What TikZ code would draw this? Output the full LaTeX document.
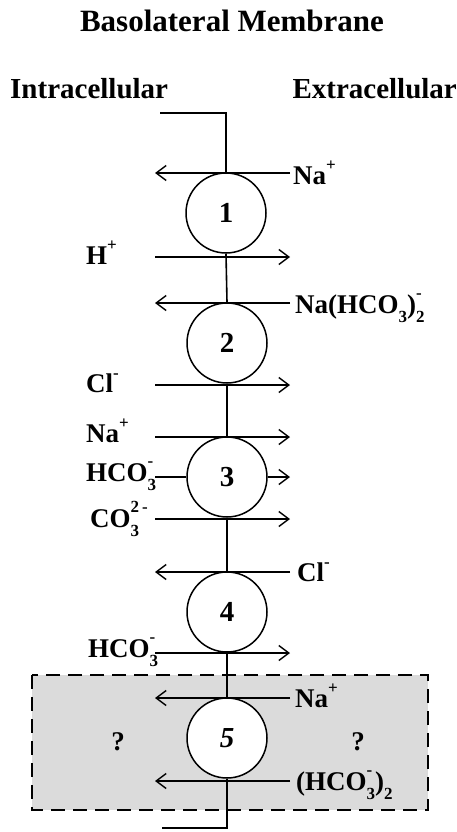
\documentclass[tikz,border=0pt]{standalone}
\usepackage{fontspec}
\setmainfont{Liberation Serif}
\usetikzlibrary{arrows.meta}
\newcommand\ionss[2]{\rlap{\raisebox{0.55em}{\fontsize{17}{17}\selectfont #2}}\raisebox{-0.35em}{\fontsize{17}{17}\selectfont #1}}
\newcommand\ionsup[1]{\raisebox{0.5em}{\fontsize{17}{17}\selectfont #1}}
\newcommand\ionsub[1]{\raisebox{-0.35em}{\fontsize{17}{17}\selectfont #1}}
\begin{document}
\begin{tikzpicture}[x=1pt,y=-1pt,
  lbl/.style={font=\fontsize{27}{32}\selectfont\bfseries, inner sep=0pt},
  hdr/.style={font=\fontsize{29}{34}\selectfont\bfseries, inner sep=0pt},
  pump/.style={circle, draw, line width=1.5pt, fill=white, minimum size=80pt, inner sep=0pt, font=\fontsize{29}{34}\selectfont\bfseries},
  memb/.style={line width=1.6pt},
  flux/.style={line width=1.4pt, -{Straight Barb[length=10pt,width=15pt,line width=1.4pt]}},
  plain/.style={line width=1.4pt},
  qbox/.style={fill=gray!28, draw, line width=1.3pt, dash pattern=on 14pt off 8pt}
]
\useasboundingbox (0,0) rectangle (457,832);
% box
\draw[qbox] (32,675) rectangle (428,810);
% headers
\node[hdr, font=\fontsize{31}{36}\selectfont\bfseries, anchor=base] (title) at (232,32) {Basolateral Membrane};
\node[hdr, anchor=base west] (intra) at (10,99) {Intracellular};
\node[hdr, anchor=base east] (extra) at (457,99) {Extracellular};
% pumps
\node[pump] (c1) at (226,213) {1};
\node[pump] (c2) at (227,343) {2};
\node[pump] (c3) at (227,477) {3};
\node[pump] (c4) at (227,612) {4};
\node[pump] (c5) at (227,738) {\itshape 5};
% membrane
\coordinate (wt) at (160,113);
\coordinate (wb) at (162,828);
\draw[memb] (wt) -| (c1.north);
\draw[memb] (c1.south) -- (c2.north);
\draw[memb] (c2.south) -- (c3.north);
\draw[memb] (c3.south) -- (c4.north);
\draw[memb] (c4.south) -- (c5.north);
\draw[memb] (c5.south) |- (wb);
% fluxes
\coordinate (a1r) at (290,173); \coordinate (a1l) at (155,173);
\draw[flux] (a1r) -- (a1l);
\coordinate (a2l) at (155,257); \coordinate (a2r) at (290,257);
\draw[flux] (a2l) -- (a2r);
\coordinate (a3r) at (290,303); \coordinate (a3l) at (155,303);
\draw[flux] (a3r) -- (a3l);
\coordinate (a4l) at (155,385); \coordinate (a4r) at (290,385);
\draw[flux] (a4l) -- (a4r);
\coordinate (a5l) at (155,437); \coordinate (a5r) at (290,437);
\draw[flux] (a5l) -- (a5r);
\coordinate (a6l) at (155,477); \coordinate (a6r) at (290,477);
\draw[plain] (a6l) -- (c3.west);
\draw[flux] (c3.east) -- (a6r);
\coordinate (a7l) at (155,519); \coordinate (a7r) at (290,519);
\draw[flux] (a7l) -- (a7r);
\coordinate (a8r) at (290,572); \coordinate (a8l) at (155,572);
\draw[flux] (a8r) -- (a8l);
\coordinate (a9l) at (155,653); \coordinate (a9r) at (290,653);
\draw[flux] (a9l) -- (a9r);
\coordinate (a10r) at (290,698); \coordinate (a10l) at (155,698);
\draw[flux] (a10r) -- (a10l);
\coordinate (a11r) at (290,781); \coordinate (a11l) at (155,781);
\draw[flux] (a11r) -- (a11l);
% labels right
\node[lbl, anchor=base west] (l1) at (293,184) {Na\ionsup{+}};
\node[lbl, anchor=base west] (l3) at (295,313) {Na(HCO\ionsub{3})\ionss{2}{-}};
\node[lbl, anchor=base west] (l8) at (297,581) {Cl\ionsup{-}};
\node[lbl, anchor=base west] (l10) at (295,707) {Na\ionsup{+}};
\node[lbl, anchor=base west] (l11) at (296,790) {(HCO\ionss{3}{-})\ionsub{2}};
% labels left
\node[lbl, anchor=base west] (l2) at (86,264) {H\ionsup{+}};
\node[lbl, anchor=base west] (l4) at (86,392) {Cl\ionsup{-}};
\node[lbl, anchor=base west] (l5) at (86,442) {Na\ionsup{+}};
\node[lbl, anchor=base west] (l6) at (86,481) {HCO\ionss{3}{-}};
\node[lbl, anchor=base west] (l7) at (90,527) {CO\ionss{3}{2\,-}};
\node[lbl, anchor=base west] (l9) at (88,657) {HCO\ionss{3}{-}};
% question marks
\node[lbl, anchor=base] (q1) at (118,750) {?};
\node[lbl, anchor=base] (q2) at (358,750) {?};
\end{tikzpicture}
\end{document}
